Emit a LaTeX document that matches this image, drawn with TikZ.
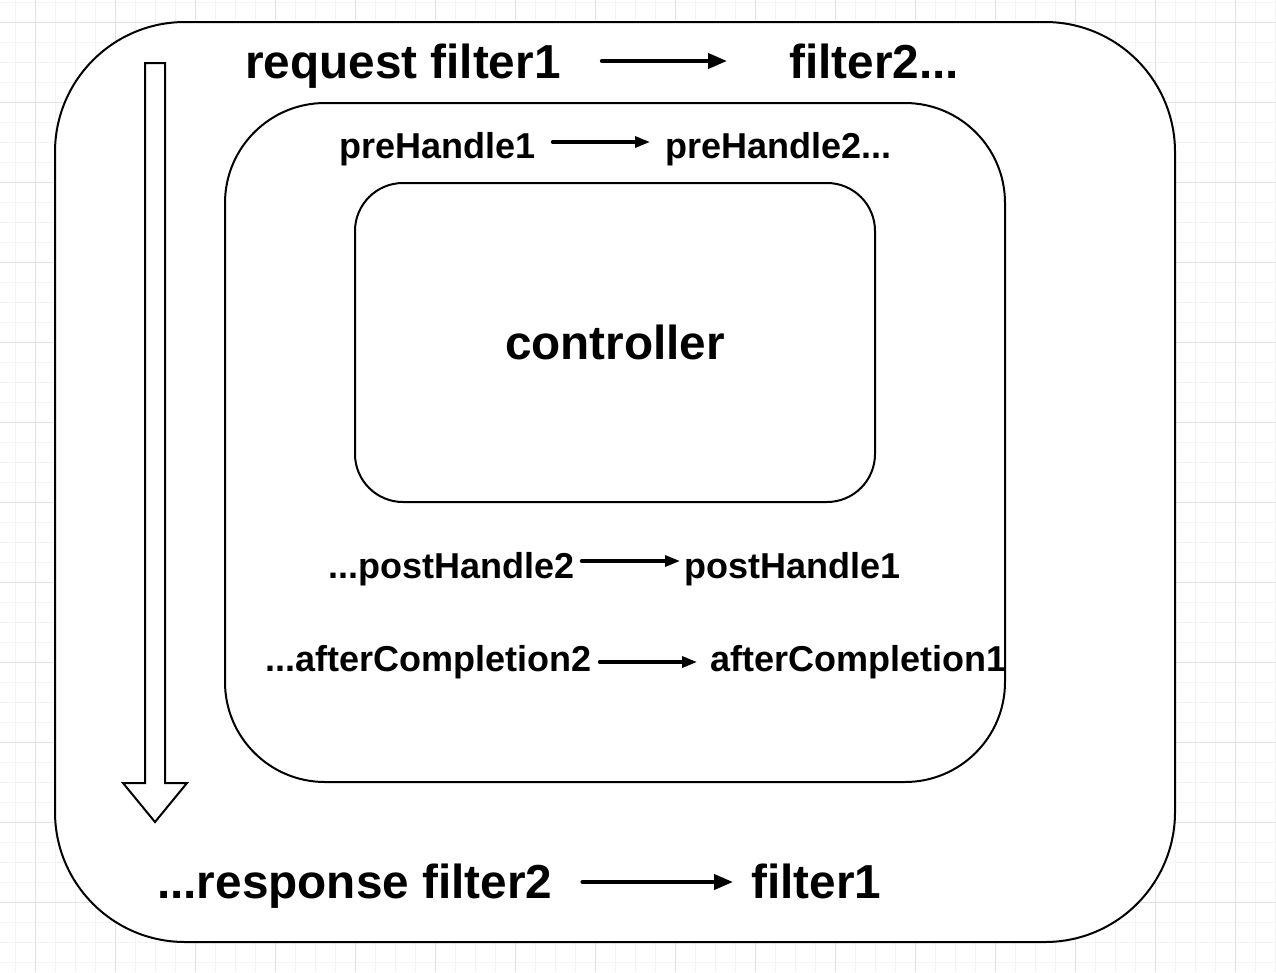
\documentclass[tikz,border=0pt]{standalone}
\usepackage{fontspec}
\setmainfont{Liberation Sans}
\usetikzlibrary{arrows.meta}
\definecolor{gridminor}{HTML}{F3F3F3}
\definecolor{gridmajor}{HTML}{E2E2E2}
\tikzset{
  box/.style={draw=black, line width=2pt, fill=white, inner sep=0pt},
  bigtext/.style={inner sep=0pt, anchor=base west, font=\fontsize{47.7}{56}\selectfont\bfseries},
  midtext/.style={inner sep=0pt, anchor=base west, font=\fontsize{36}{42}\selectfont\bfseries},
  bigarr/.style={line width=4pt, line cap=round, -{Triangle[length=19pt,width=15pt]}},
  midarr/.style={line width=3.2pt, line cap=round, -{Triangle[length=15pt,width=11pt]}},
}
\begin{document}
\begin{tikzpicture}[x=1pt,y=-1pt]
\useasboundingbox (0,0) rectangle (1276,972);
\fill[white] (0,0) rectangle (1276,972);
% grid
\foreach \x in {15,35,...,1275} \draw[gridminor, line width=1pt] (\x,0) -- (\x,972);
\foreach \y in {2,22,...,972} \draw[gridminor, line width=1pt] (0,\y) -- (1276,\y);
\foreach \x in {35,115,...,1275} \draw[gridmajor, line width=1pt] (\x,0) -- (\x,972);
\foreach \y in {22,102,...,972} \draw[gridmajor, line width=1pt] (0,\y) -- (1276,\y);
% boxes
\node[box, rounded corners=130pt, minimum width=1120pt, minimum height=920pt] (outer) at (615,482) {};
\node[box, rounded corners=100pt, minimum width=780pt, minimum height=679pt] (inner) at (615,442.5) {};
\node[box, rounded corners=48pt, minimum width=520pt, minimum height=319pt,
      font=\fontsize{47.7}{56}\selectfont\bfseries] (ctrl) at (615,342.5) {controller};
% hollow down arrow
\draw[line width=2pt, fill=white, line join=miter]
  (145,63) -- (165,63) -- (165,783) -- (187,783) -- (155,822) -- (123,783) -- (145,783) -- cycle;
% texts
\node[bigtext] (req) at (245,78) {request filter1};
\node[bigtext] (f2) at (789,78) {filter2...};
\node[midtext] (pre1) at (339,158) {preHandle1};
\node[midtext] (pre2) at (665,158) {preHandle2...};
\node[midtext] (post2) at (328,578) {...postHandle2};
\node[midtext] (post1) at (684,578) {postHandle1};
\node[midtext] (aft2) at (265,671) {...afterCompletion2};
\node[midtext] (aft1) at (710,671) {afterCompletion1};
\node[bigtext] (resp) at (157,898) {...response filter2};
\node[bigtext] (f1) at (751,898) {filter1};
% connectors
\draw[bigarr, shorten <=41pt, shorten >=62pt] ([yshift=17pt]req.base east) -- ([yshift=17pt]f2.base west);
\draw[midarr, shorten <=17pt, shorten >=15pt] ([yshift=16pt]pre1.base east) -- ([yshift=16pt]pre2.base west);
\draw[midarr, shorten <=7pt, shorten >=4pt] ([yshift=17pt]post2.base east) -- ([yshift=17pt]post1.base west);
\draw[midarr, shorten <=8pt, shorten >=13pt] ([yshift=9pt]aft2.base east) -- ([yshift=9pt]aft1.base west);
\draw[bigarr, shorten <=30pt, shorten >=18pt] ([yshift=16pt]resp.base east) -- ([yshift=16pt]f1.base west);
\end{tikzpicture}
\end{document}
